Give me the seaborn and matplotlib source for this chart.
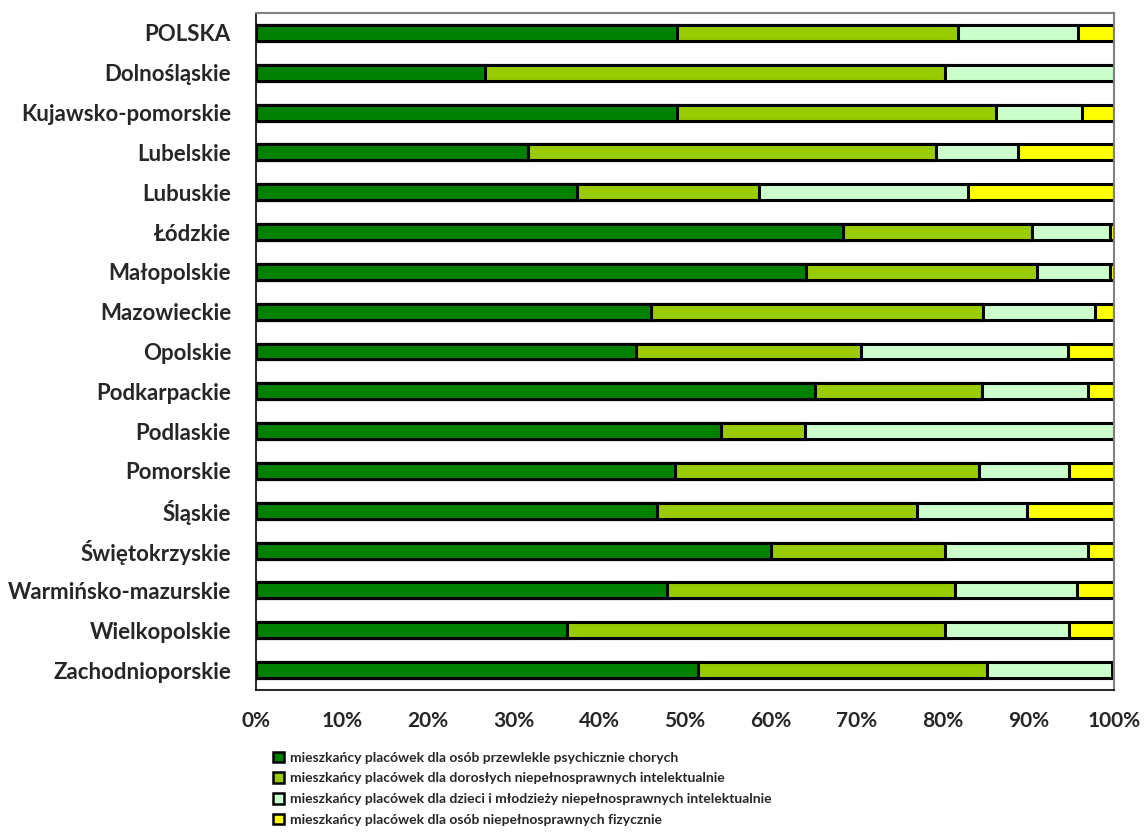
import numpy as np
import pandas as pd
import matplotlib
matplotlib.use("Agg")
import matplotlib.pyplot as plt
from matplotlib.patches import Patch
import seaborn as sns

# Udział mieszkańców wg typu placówki (w %)
regions = ["POLSKA", "Dolnośląskie", "Kujawsko-pomorskie", "Lubelskie", "Lubuskie",
           "Łódzkie", "Małopolskie", "Mazowieckie", "Opolskie", "Podkarpackie",
           "Podlaskie", "Pomorskie", "Śląskie", "Świętokrzyskie",
           "Warmińsko-mazurskie", "Wielkopolskie", "Zachodnioporskie"]
psych = [49.1, 26.7, 49.1, 31.7, 37.4, 68.4, 64.1, 46.0, 44.3, 65.2,
         54.2, 48.8, 46.7, 60.0, 47.9, 36.2, 51.5]
dorosli = [32.7, 53.6, 37.1, 47.6, 21.2, 22.0, 26.9, 38.7, 26.2, 19.4,
           9.8, 35.5, 30.3, 20.3, 33.6, 44.1, 33.7]
dzieci = [14.0, 19.7, 10.1, 9.5, 24.4, 9.1, 8.5, 13.1, 24.1, 12.4,
          36.0, 10.5, 12.9, 16.7, 14.2, 14.5, 14.6]
fizycznie = [4.2, 0.0, 3.7, 11.2, 17.0, 0.5, 0.5, 2.2, 5.4, 3.0,
             0.0, 5.2, 10.1, 3.0, 4.3, 5.2, 0.2]

series_labels = [
    "mieszkańcy placówek dla osób przewlekle psychicznie chorych",
    "mieszkańcy placówek dla dorosłych niepełnosprawnych intelektualnie",
    "mieszkańcy placówek dla dzieci i młodzieży niepełnosprawnych intelektualnie",
    "mieszkańcy placówek dla osób niepełnosprawnych fizycznie",
]
colors = ["#008000", "#99CC00", "#CCFFCC", "#FFFF00"]

df = pd.DataFrame({"region": regions, "s1": psych, "s2": dorosli,
                   "s3": dzieci, "s4": fizycznie})
cols = ["s1", "s2", "s3", "s4"]
shares = df[cols].div(df[cols].sum(axis=1), axis=0) * 100
cum = shares.cumsum(axis=1)

sns.set_style("white")
plt.rcParams['font.family'] = ['Lato', 'DejaVu Sans']
plt.rcParams['font.weight'] = 'bold'

fig = plt.figure(figsize=(11.44, 8.35), dpi=100)
ax = fig.add_axes([256 / 1144, 1 - 690 / 835, 858 / 1144, 677 / 835])

# rysowanie od najdłuższego (skumulowanego) do najkrótszego
for i in range(3, -1, -1):
    sns.barplot(x=cum[cols[i]].values, y=df["region"], orient="h",
                color=colors[i], edgecolor="black", linewidth=2.2,
                width=0.4, ax=ax, saturation=1)

ax.set_xlim(0, 100)
ax.set_ylim(16.5, -0.5)
ax.set_xlabel("")
ax.set_ylabel("")
ax.set_xticks(np.arange(0, 101, 10))
ax.set_xticklabels([f"{v}%" for v in range(0, 101, 10)], fontsize=15, fontweight="bold")
ax.tick_params(axis="x", direction="out", length=6, width=1, color="black", pad=9)
ax.set_yticks(range(len(regions)))
ax.set_yticklabels(regions, fontsize=16, fontweight="bold")
ax.set_yticks(np.arange(-0.5, 16.6, 1), minor=True)
ax.tick_params(axis="y", which="major", length=0, pad=18)
ax.tick_params(axis="y", which="minor", direction="out", length=6, width=1, color="black")

for s in ["left", "bottom"]:
    ax.spines[s].set_color("black")
    ax.spines[s].set_linewidth(1.2)
for s in ["top", "right"]:
    ax.spines[s].set_color("#808080")
    ax.spines[s].set_linewidth(1.5)

handles = [Patch(facecolor=c, edgecolor="black", linewidth=1.8) for c in colors]
fig.legend(handles, series_labels, loc="upper left",
           bbox_to_anchor=(267 / 1144, 1 - 746 / 835), frameon=False,
           fontsize=10, handlelength=0.8, handleheight=0.8, handletextpad=0.45,
           labelspacing=0.62, borderaxespad=0)

fig.savefig("out.png", dpi=100)
